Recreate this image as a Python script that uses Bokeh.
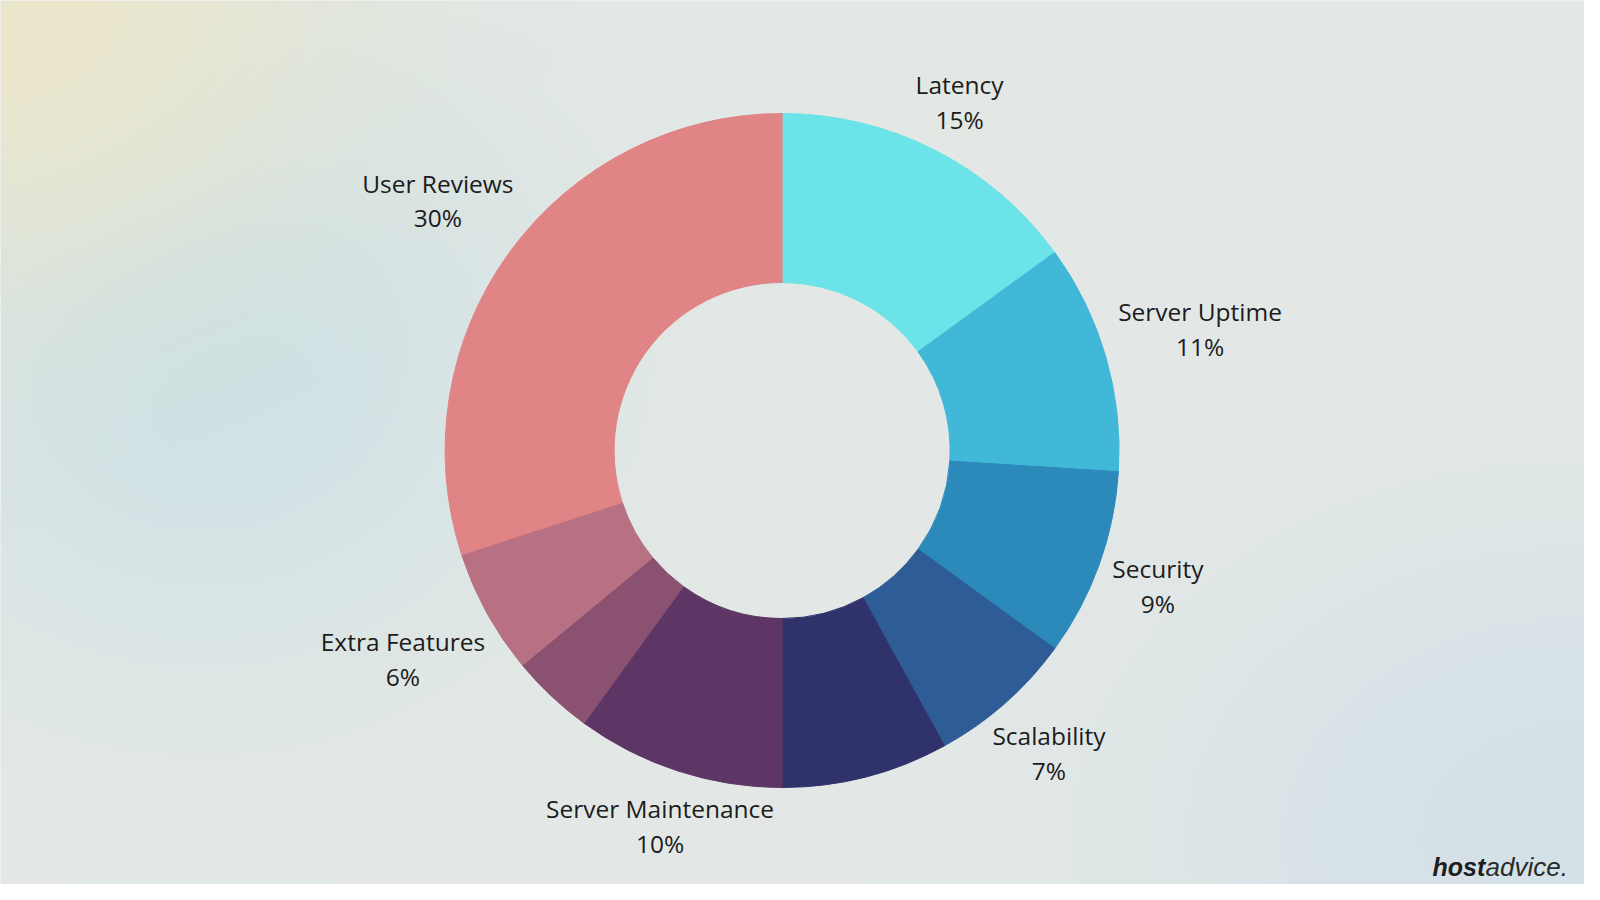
import numpy as np
from bokeh.plotting import figure
from bokeh.models import Range1d, ColumnDataSource
from bokeh.core.properties import value
from bokeh.embed import file_html
from bokeh.resources import INLINE

# ---- data ----
names = ["Latency", "Server Uptime", "Security", "Scalability", "",
         "Server Maintenance", "", "Extra Features", "User Reviews"]
shares = [15, 11, 9, 7, 8, 10, 4, 6, 30]
colors = ["#6be3e8", "#42b8d8", "#2c8abb", "#2d5c96", "#30326b",
          "#5d3665", "#8a5171", "#b87083", "#e08485"]

# ---- layout ----
W, H = 1584, 884
cx, cy = 781.6, 450.0          # donut centre in plot pixels
R_OUT, R_IN = 337, 168

x_range = Range1d(-cx, W - cx)
y_range = Range1d(cy - H, cy)

p = figure(width=W, height=H, x_range=x_range, y_range=y_range,
           output_backend="svg", toolbar_location=None, min_border=0)
p.axis.visible = False
p.grid.visible = False
p.outline_line_color = None
p.background_fill_color = "#e4e8e5"
p.border_fill_color = "#e4e8e5"

# ---- soft background gradient ----
gw, gh = 396, 221
xs = np.linspace(0, W, gw)
ys = np.linspace(0, H, gh)
X, Y = np.meshgrid(xs, ys)
img = np.ones((gh, gw, 3)) * np.array([228, 233, 230])
blobs = [((205, 224, 230), 200, 330, 340, 320),
         ((212, 225, 232), 1580, 840, 430, 320),
         ((235, 231, 203), 0, 0, 340, 290)]
for col, x0, y0, sx, sy in blobs:
    w = np.exp(-(((X - x0) / sx) ** 2 + ((Y - y0) / sy) ** 2))[..., None]
    img = img * (1 - w) + np.array(col) * w
img = img[::-1]
rgba = np.empty((gh, gw), dtype=np.uint32)
view = rgba.view(dtype=np.uint8).reshape((gh, gw, 4))
view[..., :3] = img.astype(np.uint8)
view[..., 3] = 255
p.image_rgba(image=[rgba], x=x_range.start, y=y_range.start, dw=W, dh=H)

# ---- wedges ----
fracs = np.array(shares, dtype=float) / sum(shares)
cum = np.concatenate([[0.0], np.cumsum(fracs)])
start = np.pi / 2 - 2 * np.pi * cum[:-1]
end = np.pi / 2 - 2 * np.pi * cum[1:]
mid = np.pi * (cum[:-1] + cum[1:])  # clockwise from top

hw = np.array([len(n) for n in names]) * 6.6
hh = np.where(np.cos(mid) > 0, 28, 14)
r_lab = R_OUT + 8 + hw * np.abs(np.sin(mid)) + hh * np.abs(np.cos(mid))
labels = [f"{n}\n{s}%" if n else "" for n, s in zip(names, shares)]

src = ColumnDataSource(dict(start=start, end=end, color=colors,
                            lx=r_lab * np.sin(mid), ly=r_lab * np.cos(mid),
                            label=labels))

p.annular_wedge(x=0, y=0, inner_radius=R_IN, outer_radius=R_OUT,
                start_angle="start", end_angle="end", direction="clock",
                fill_color="color", line_color="color", line_width=1,
                source=src)

p.text(x="lx", y="ly", text="label", text_align="center",
       text_baseline="middle", text_font=value("Open Sans"),
       text_font_size="24.5px", text_color="#1c1c1c",
       text_line_height=1.05, source=src)

# ---- brand mark ----
p.text(x=[1432 - cx], y=[cy - 866], text=["host"], text_align="left",
       text_baseline="alphabetic", text_font=value("Liberation Sans"),
       text_font_style="bold italic", text_font_size="25px",
       text_color="#1e1e1e")
p.text(x=[1432 - cx + 53], y=[cy - 866], text=["advice."], text_align="left",
       text_baseline="alphabetic", text_font=value("Liberation Sans"),
       text_font_style="italic", text_font_size="26px",
       text_color="#2a2a2a")

open("out.html", "w").write(file_html(p, INLINE))
